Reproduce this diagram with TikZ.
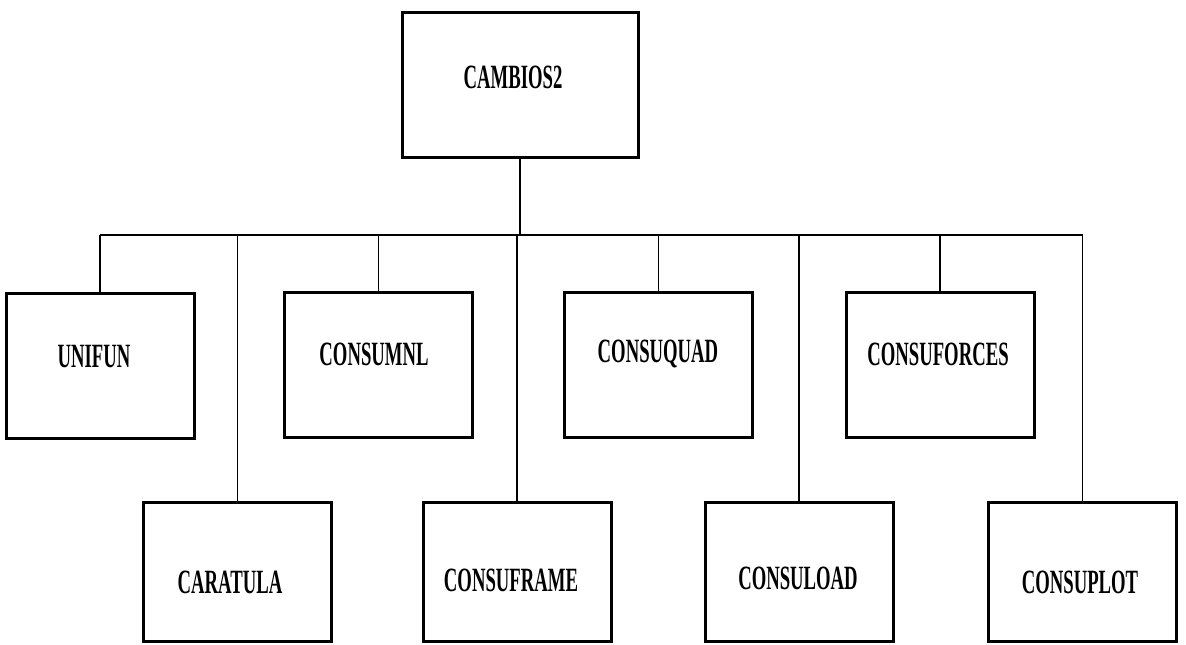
\documentclass[tikz,border=0pt]{standalone}
\usepackage{fontspec}
\newfontfamily\dfont[FakeStretch=0.55]{Liberation Serif}
\begin{document}
\begin{tikzpicture}[x=1pt,y=-1pt,
  box/.style={draw=black, line width=3pt, fill=white, inner sep=0pt, minimum width=#1, minimum height=145pt},
  box/.default=188pt,
  lbl/.style={font=\dfont\fontsize{34}{34}\selectfont\bfseries, inner sep=0pt, text=black},
  conn/.style={draw=black, line width=1.3pt}]
\useasboundingbox (0,0) rectangle (1186,645);
\fill[white] (0,0) rectangle (1186,645);
% top
\node[box=236pt] (top) at (520,84.5) {};
\node[lbl] (topt) at (513,77) {CAMBIOS2};
% row 1
\node[box] (unifun) at (100,365.5) {};
\node[lbl] (unifunt) at (94,357) {UNIFUN};
\node[box] (consumnl) at (378.5,365) {};
\node[lbl] (consumnlt) at (374,354) {CONSUMNL};
\node[box] (consuquad) at (658.5,364.5) {};
\node[lbl] (consuquadt) at (658,354) {CONSUQUAD};
\node[box] (consuforces) at (940,364.5) {};
\node[lbl] (consuforcest) at (938,354) {CONSUFORCES};
% row 2
\node[box, minimum height=139pt] (caratula) at (237.5,571.5) {};
\node[lbl] (caratulat) at (230,582) {CARATULA};
\node[box, minimum height=139pt] (consuframe) at (517,571.5) {};
\node[lbl] (consuframet) at (511,580) {CONSUFRAME};
\node[box, minimum height=139pt] (consuload) at (799,572) {};
\node[lbl] (consuloadt) at (798,578) {CONSULOAD};
\node[box, minimum height=139pt] (consuplot) at (1082.5,572) {};
\node[lbl] (consuplott) at (1080,582) {CONSUPLOT};
% bus
\coordinate (bus) at (520,235);
\draw[conn] (top.south) -- (top.south |- bus);
\draw[conn] (unifun.north |- bus) -- (consuplot.north |- bus);
\foreach \n in {unifun,caratula,consumnl,consuframe,consuquad,consuload,consuforces,consuplot}
  \draw[conn] (\n.north |- bus) -- (\n.north);
\end{tikzpicture}
\end{document}
